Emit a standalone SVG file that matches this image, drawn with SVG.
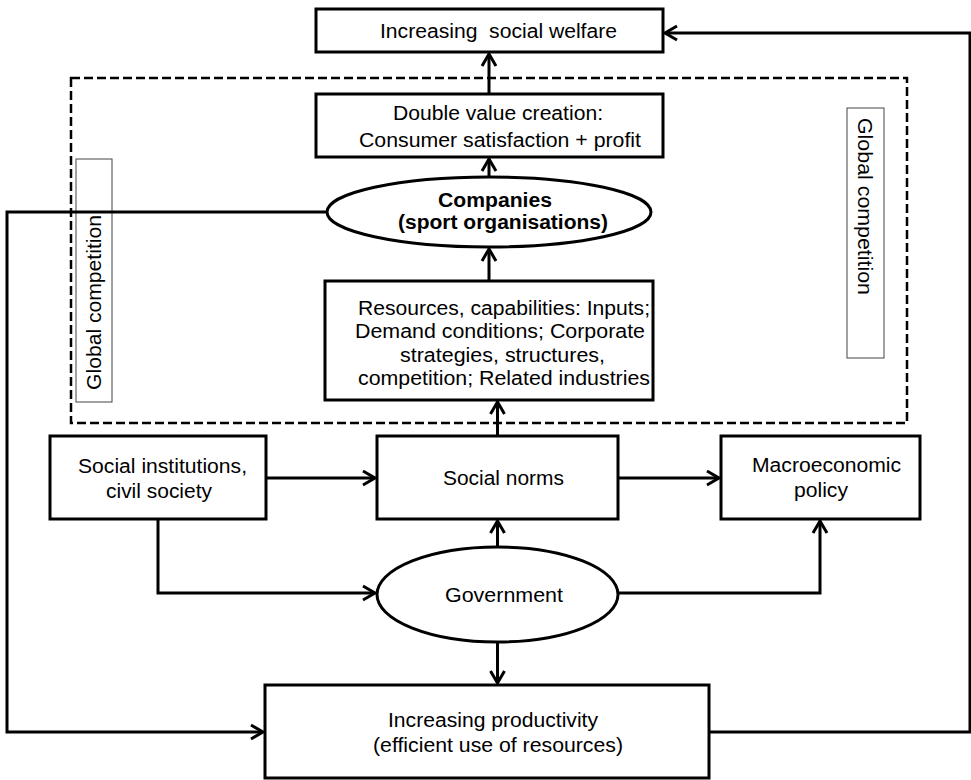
<svg xmlns="http://www.w3.org/2000/svg" width="971" height="780" viewBox="0 0 971 780">
  <style>
    .box { fill: #ffffff; stroke: #000000; stroke-width: 3; }
    .oval { fill: #ffffff; stroke: #000000; stroke-width: 3; }
    .frame { fill: none; stroke: #000000; stroke-width: 2.5; stroke-dasharray: 9 4; }
    .tag { fill: none; stroke: #444444; stroke-width: 1; }
    .wire { fill: none; stroke: #000000; stroke-width: 3; marker-end: url(#head); }
    .link { fill: none; stroke: #000000; stroke-width: 3; }
    text { font-family: "Liberation Sans", Arial, sans-serif; font-size: 20px; fill: #000000; text-anchor: middle; }
    .bold { font-weight: bold; }
  </style>
  <defs>
    <marker id="head" markerUnits="userSpaceOnUse" viewBox="-16 -10 20 20" refX="0" refY="0" markerWidth="20" markerHeight="20" orient="auto">
      <path d="M-12,-7 L0,0 L-12,7" fill="none" stroke="#000000" stroke-width="3"/>
    </marker>
  </defs>
  <rect width="971" height="780" fill="#ffffff"/>

  <!-- dashed company frame and the two "Global competition" tags -->
  <g id="frame">
    <rect class="frame" x="71" y="78" width="836" height="345"/>
  </g>
  <g id="global-left">
    <rect class="tag" x="76" y="159" width="36" height="243"/>
    <text x="101" y="302.5" transform="rotate(-90 101 302.5)" textLength="175" lengthAdjust="spacingAndGlyphs">Global competition</text>
  </g>
  <g id="global-right">
    <rect class="tag" x="847" y="108" width="37" height="250"/>
    <text x="858" y="206.5" transform="rotate(90 858 206.5)" textLength="177" lengthAdjust="spacingAndGlyphs">Global competition</text>
  </g>

  <!-- connectors -->
  <g id="connectors">
    <path class="wire" d="M489,94 V54"/>
    <path class="wire" d="M489,177 V159"/>
    <path class="wire" d="M489,281 V249"/>
    <path class="wire" d="M497.5,436 V402"/>
    <path class="wire" d="M497.5,547 V521"/>
    <path class="wire" d="M497.5,642 V683"/>
    <path class="wire" d="M266,478 H375"/>
    <path class="wire" d="M618,478 H719"/>
    <path class="wire" d="M158,519 V593 H375"/>
    <path class="wire" d="M618,593 H820 V521"/>
    <path class="wire" d="M328,212 H7 V732 H263"/>
    <path class="wire" d="M709,732 H970 V33 H665"/>
  </g>

  <g id="welfare">
    <rect class="box" x="316" y="9" width="347" height="43"/>
    <text x="498.5" y="38" xml:space="preserve" textLength="237" lengthAdjust="spacingAndGlyphs">Increasing  social welfare</text>
  </g>

  <g id="double-value">
    <rect class="box" x="316" y="94" width="347" height="63"/>
    <text x="498" y="120" textLength="210" lengthAdjust="spacingAndGlyphs">Double value creation:</text>
    <text x="500" y="147" textLength="282" lengthAdjust="spacingAndGlyphs">Consumer satisfaction + profit</text>
  </g>

  <g id="companies">
    <ellipse class="oval" cx="489" cy="212" rx="162" ry="35"/>
    <text class="bold" x="495" y="207" textLength="114" lengthAdjust="spacingAndGlyphs">Companies</text>
    <text class="bold" x="503" y="229" textLength="210" lengthAdjust="spacingAndGlyphs">(sport organisations)</text>
  </g>

  <g id="resources">
    <rect class="box" x="325" y="281" width="328" height="119"/>
    <text x="504" y="315" textLength="292" lengthAdjust="spacingAndGlyphs">Resources, capabilities: Inputs;</text>
    <text x="500" y="338" textLength="290" lengthAdjust="spacingAndGlyphs">Demand conditions; Corporate</text>
    <text x="502.5" y="362" textLength="205" lengthAdjust="spacingAndGlyphs">strategies, structures,</text>
    <text x="504" y="385" textLength="292" lengthAdjust="spacingAndGlyphs">competition; Related industries</text>
  </g>

  <g id="social-institutions">
    <rect class="box" x="50" y="436" width="216" height="83"/>
    <text x="162.5" y="473" textLength="169" lengthAdjust="spacingAndGlyphs">Social institutions,</text>
    <text x="159" y="498" textLength="106" lengthAdjust="spacingAndGlyphs">civil society</text>
  </g>

  <g id="social-norms">
    <rect class="box" x="377" y="436" width="241" height="83"/>
    <text x="503.5" y="485" textLength="121" lengthAdjust="spacingAndGlyphs">Social norms</text>
  </g>

  <g id="macroeconomic-policy">
    <rect class="box" x="721" y="436" width="199" height="83"/>
    <text x="826.5" y="472" textLength="149" lengthAdjust="spacingAndGlyphs">Macroeconomic</text>
    <text x="821" y="497" textLength="54" lengthAdjust="spacingAndGlyphs">policy</text>
  </g>

  <g id="government">
    <ellipse class="oval" cx="497.5" cy="594.5" rx="120.5" ry="47.5"/>
    <text x="504" y="602" textLength="118" lengthAdjust="spacingAndGlyphs">Government</text>
  </g>

  <g id="productivity">
    <rect class="box" x="265" y="685" width="444" height="93"/>
    <text x="493" y="727" textLength="210" lengthAdjust="spacingAndGlyphs">Increasing productivity</text>
    <text x="498" y="752" textLength="250" lengthAdjust="spacingAndGlyphs">(efficient use of resources)</text>
  </g>
</svg>
